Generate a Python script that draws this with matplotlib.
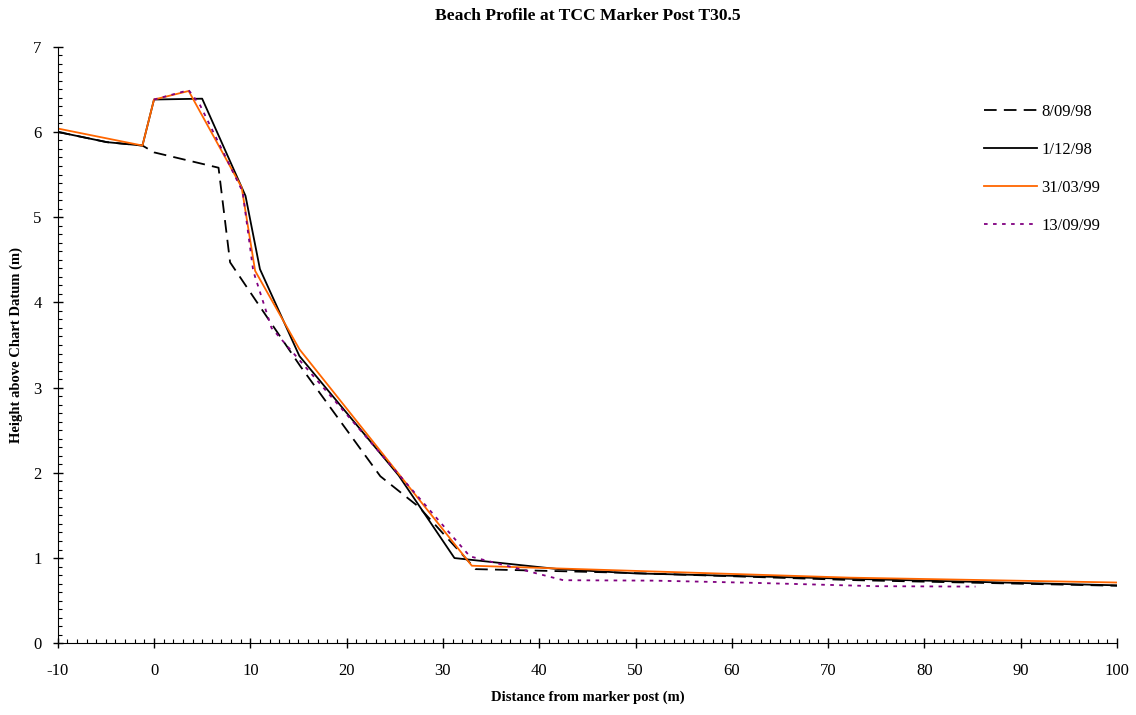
import matplotlib
matplotlib.use("Agg")
from matplotlib import pyplot as plt
from matplotlib.ticker import MultipleLocator

plt.rcParams['font.family'] = ['Liberation Serif', 'DejaVu Serif']
plt.rcParams['axes.unicode_minus'] = False

# 8/09/98 (dashed)
x_sep98 = [-10, -4.9, -1.2, 0, 6.7, 7.9, 10.7, 15.2, 23.5, 27.5, 33.4, 48, 73, 100]
y_sep98 = [6.0, 5.88, 5.84, 5.76, 5.58, 4.47, 4.0, 3.25, 1.96, 1.6, 0.87, 0.83, 0.74, 0.675]

# 1/12/98 (solid black)
x_dec98 = [-10, -4.9, -1.2, 0, 5.0, 9.5, 11.0, 15.1, 25.4, 31.2, 42, 50, 73, 100]
y_dec98 = [6.0, 5.88, 5.84, 6.38, 6.39, 5.25, 4.39, 3.37, 1.97, 1.0, 0.87, 0.82, 0.755, 0.68]

# 31/03/99 (orange)
x_mar99 = [-10, -1.2, 0, 3.6, 9.1, 10.5, 15.1, 33.0, 48.4, 72.3, 100]
y_mar99 = [6.04, 5.84, 6.38, 6.48, 5.35, 4.37, 3.45, 0.91, 0.855, 0.77, 0.713]

# 13/09/99 (purple dotted)
x_sep99 = [0, 3.6, 4.8, 9.2, 10.3, 12.2, 32.8, 42.5, 52, 62, 75, 85.3]
y_sep99 = [6.38, 6.49, 6.31, 5.3, 4.37, 3.7, 1.02, 0.74, 0.735, 0.71, 0.67, 0.665]

labels = ['8/09/98', '1/12/98', '31/03/99', '13/09/99']

fig = plt.figure(figsize=(11.36, 7.15), dpi=100)
ax = fig.add_axes([0.0508, 0.1003, 0.9325, 0.8344])

ax.plot(x_sep98, y_sep98, color='black', lw=1.3, dashes=(7, 4), label=labels[0])
ax.plot(x_dec98, y_dec98, color='black', lw=1.3, label=labels[1])
ax.plot(x_mar99, y_mar99, color='#ff6600', lw=1.3, label=labels[2])
ax.plot(x_sep99, y_sep99, color='#800080', lw=1.3, dashes=(2, 3), label=labels[3])

ax.set_xlim(-10, 100)
ax.set_ylim(0, 7)
ax.xaxis.set_major_locator(MultipleLocator(10))
ax.xaxis.set_minor_locator(MultipleLocator(1))
ax.yaxis.set_major_locator(MultipleLocator(1))
ax.yaxis.set_minor_locator(MultipleLocator(0.1))
ax.tick_params(which='major', direction='inout', length=7, width=1, labelsize=12, pad=8)
ax.tick_params(axis='x', which='major', pad=11)
ax.tick_params(which='minor', direction='in', length=3, width=0.8)

for s in ['top', 'right']:
    ax.spines[s].set_visible(False)

ax.set_title('Beach Profile at TCC Marker Post T30.5', fontsize=12.6, fontweight='bold', pad=19)
ax.set_xlabel('Distance from marker post (m)', fontsize=10.5, fontweight='bold')
ax.set_ylabel('Height above Chart Datum (m)', fontsize=10.5, fontweight='bold')
ax.xaxis.set_label_coords(0.5, -0.08)
ax.yaxis.set_label_coords(-0.0328, 0.5)

ax.legend(loc='upper left', bbox_to_anchor=(0.86, 0.929), frameon=False, fontsize=12,
          handlelength=3.2, handletextpad=0.25, labelspacing=1.32)

fig.savefig('out.png', dpi=100)
